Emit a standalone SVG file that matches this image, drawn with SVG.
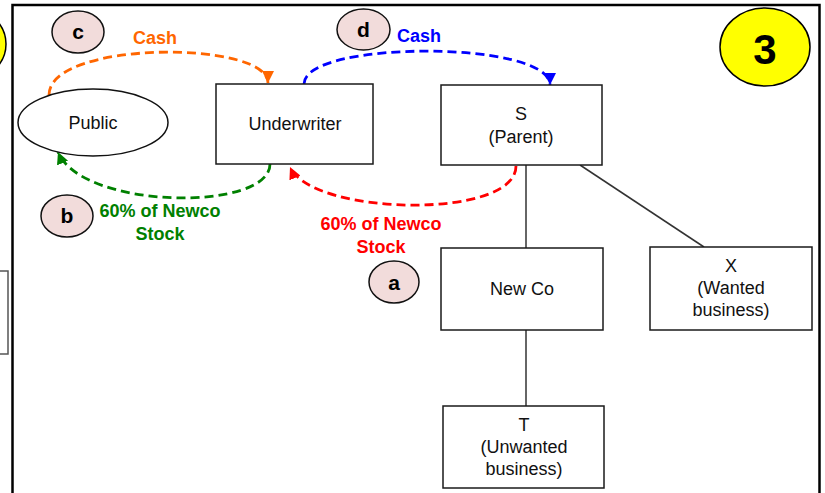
<svg xmlns="http://www.w3.org/2000/svg" width="825" height="493" viewBox="0 0 825 493">
<style>
.box{fill:#fff;stroke:#1a1a1a;stroke-width:1.5}
.lbl{font-family:"Liberation Sans",Arial,sans-serif;font-size:18px;fill:#111;text-anchor:middle}
.bold{font-family:"Liberation Sans",Arial,sans-serif;font-size:18px;font-weight:bold;text-anchor:middle}
.step{fill:#F2DCDB;stroke:#111;stroke-width:1.5}
.steplbl{font-family:"Liberation Sans",Arial,sans-serif;font-size:21px;font-weight:bold;fill:#000;text-anchor:middle}
.link{fill:none;stroke:#333;stroke-width:1.5}
.flow{fill:none;stroke-width:2.8;stroke-dasharray:9,5}
.frame{stroke:#000;stroke-width:2.5;fill:none}
</style>
<defs>
<marker id="mo" markerUnits="userSpaceOnUse" markerWidth="12" markerHeight="12" refX="10" refY="5" orient="auto" viewBox="0 0 10 10"><path d="M0,0 L10,5 L0,10 z" fill="#FF6600"/></marker>
<marker id="mb" markerUnits="userSpaceOnUse" markerWidth="12" markerHeight="12" refX="10" refY="5" orient="auto" viewBox="0 0 10 10"><path d="M0,0 L10,5 L0,10 z" fill="#0000FF"/></marker>
<marker id="mg" markerUnits="userSpaceOnUse" markerWidth="12" markerHeight="12" refX="10" refY="5" orient="auto" viewBox="0 0 10 10"><path d="M0,0 L10,5 L0,10 z" fill="#008000"/></marker>
<marker id="mr" markerUnits="userSpaceOnUse" markerWidth="12" markerHeight="12" refX="10" refY="5" orient="auto" viewBox="0 0 10 10"><path d="M0,0 L10,5 L0,10 z" fill="#FF0000"/></marker>
</defs>
<rect width="825" height="493" fill="#fff"/>
<g id="frame">
<ellipse cx="-40" cy="44" rx="46" ry="39" fill="#FFFF00" stroke="#000" stroke-width="1.5"/>
<rect x="-2" y="271" width="10" height="83" fill="#fff" stroke="#555" stroke-width="1.5"/>
<path class="frame" d="M12.5,493 V5 H819.5 V493"/>
</g>
<g id="badge3">
<ellipse cx="765" cy="47" rx="45" ry="39" fill="#FFFF00" stroke="#000" stroke-width="1.5"/>
<text x="765" y="64" font-family="Liberation Sans,Arial,sans-serif" font-size="42" font-weight="bold" text-anchor="middle" fill="#000">3</text>
</g>
<g id="connectors">
<line class="link" x1="526" y1="165" x2="526" y2="248"/>
<line class="link" x1="526" y1="330" x2="526" y2="406"/>
<line class="link" x1="580" y1="165" x2="704" y2="247"/>
<path class="flow" stroke="#FF6600" d="M49,95 C49,40 268,40 268,83" marker-end="url(#mo)"/>
<path class="flow" stroke="#0000FF" d="M304,84 C304,40 550,40 550,85" marker-end="url(#mb)"/>
<path class="flow" stroke="#008000" d="M270,164 C270,212 82,210 58,152" marker-end="url(#mg)"/>
<path class="flow" stroke="#FF0000" d="M516,166 C516,220 312,216 290,167" marker-end="url(#mr)"/>
<text class="bold" x="155" y="44" fill="#FF6600">Cash</text>
<text class="bold" x="419" y="42" fill="#0000FF">Cash</text>
<text class="bold" x="160" y="217" fill="#008000">60% of Newco</text>
<text class="bold" x="160" y="240" fill="#008000">Stock</text>
<text class="bold" x="381" y="230" fill="#FF0000">60% of Newco</text>
<text class="bold" x="381" y="253" fill="#FF0000">Stock</text>
</g>
<g id="public">
<ellipse cx="93" cy="122.5" rx="75" ry="33.5" fill="#fff" stroke="#111" stroke-width="1.5"/>
<text class="lbl" x="93" y="129">Public</text>
</g>
<g id="underwriter">
<rect class="box" x="216" y="84" width="157" height="80"/>
<text class="lbl" x="295" y="130">Underwriter</text>
</g>
<g id="s">
<rect class="box" x="441" y="85" width="161" height="80"/>
<text class="lbl" x="521" y="120">S</text>
<text class="lbl" x="521" y="143">(Parent)</text>
</g>
<g id="newco">
<rect class="box" x="441" y="248" width="162" height="82"/>
<text class="lbl" x="522" y="295">New Co</text>
</g>
<g id="x">
<rect class="box" x="650" y="247" width="162" height="83"/>
<text class="lbl" x="731" y="272">X</text>
<text class="lbl" x="731" y="294">(Wanted</text>
<text class="lbl" x="731" y="316">business)</text>
</g>
<g id="t">
<rect class="box" x="443" y="406" width="161" height="82"/>
<text class="lbl" x="524" y="431">T</text>
<text class="lbl" x="524" y="453">(Unwanted</text>
<text class="lbl" x="524" y="475">business)</text>
</g>
<g id="step-a">
<ellipse class="step" cx="394" cy="282" rx="25" ry="21"/>
<text class="steplbl" x="394" y="290">a</text>
</g>
<g id="step-b">
<ellipse class="step" cx="67" cy="216" rx="26" ry="21"/>
<text class="steplbl" x="67" y="223">b</text>
</g>
<g id="step-c">
<ellipse class="step" cx="78" cy="32" rx="26" ry="21"/>
<text class="steplbl" x="78" y="39">c</text>
</g>
<g id="step-d">
<ellipse class="step" cx="363.5" cy="29.5" rx="26.5" ry="20.5"/>
<text class="steplbl" x="363.5" y="37">d</text>
</g>
</svg>
